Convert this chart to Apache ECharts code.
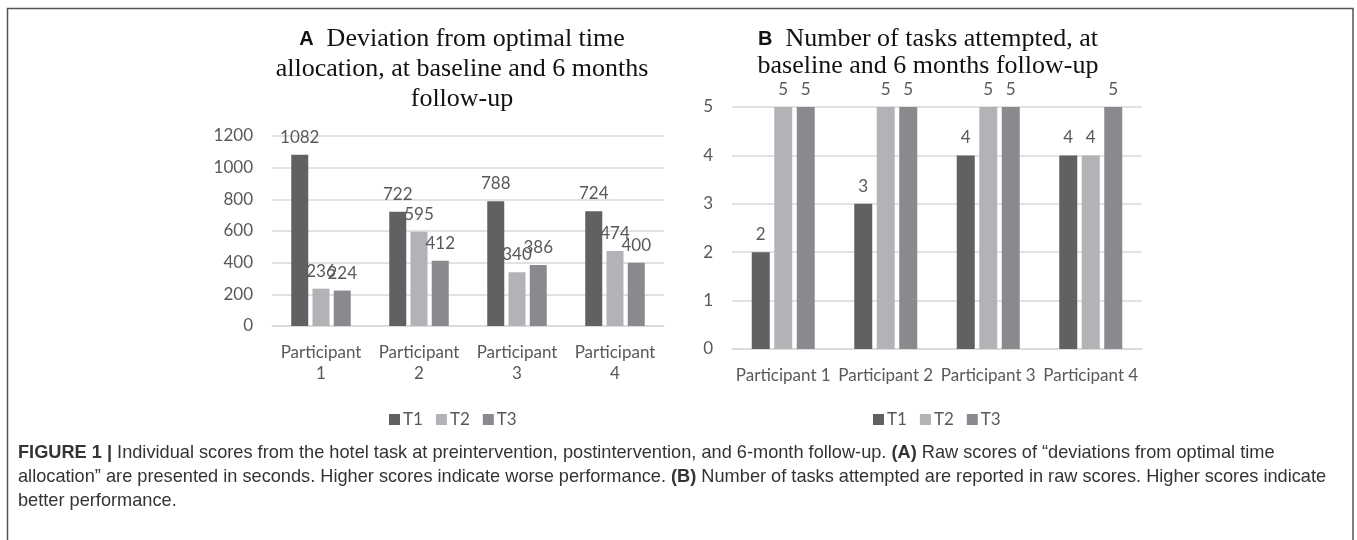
<!DOCTYPE html>
<html>
<head>
<meta charset="utf-8">
<script src="https://cdn.jsdelivr.net/npm/echarts@6/dist/echarts.min.js"></script>
<style>
  html, body { margin: 0; padding: 0; background: #fff; }
  #chart { width: 1357px; height: 540px; }
</style>
</head>
<body>
<div id="chart"></div>
<script>
  // 数据
  const participants = ["Participant 1", "Participant 2", "Participant 3", "Participant 4"];
  const seriesNames = ["T1", "T2", "T3"];
  // A: deviation from optimal time allocation (seconds)
  const devT1 = [1082, 722, 788, 724];
  const devT2 = [236, 595, 340, 474];
  const devT3 = [224, 412, 386, 400];
  // B: number of tasks attempted
  const tasksT1 = [2, 3, 4, 4];
  const tasksT2 = [5, 5, 5, 4];
  const tasksT3 = [5, 5, 5, 5];

  const COLORS = ["#606163", "#b2b3b6", "#898a8d"];
  const AX_TXT = "#595959";
  const GRID_LN = "#d9d9d9";
  const SANS = "Lato, 'Open Sans', sans-serif";
  const SERIF = "'Liberation Serif', 'DejaVu Serif', serif";
  const CAP = "'Liberation Sans', Arial, sans-serif";

  function bars(data, idx, grid, width) {
    return {
      name: seriesNames[idx],
      type: "bar",
      xAxisIndex: grid,
      yAxisIndex: grid,
      data: data,
      barWidth: width,
      barGap: "25%",
      itemStyle: { color: COLORS[idx] },
      label: {
        show: true,
        position: "top",
        distance: 9,
        color: AX_TXT,
        fontFamily: SANS,
        fontSize: 17,
      },
    };
  }

  function catAxis(grid, wrap) {
    return {
      type: "category",
      gridIndex: grid,
      data: participants,
      axisLine: { lineStyle: { color: GRID_LN, width: 1.5 } },
      axisTick: { show: false },
      axisLabel: {
        color: AX_TXT,
        fontFamily: SANS,
        fontSize: 17,
        margin: 16,
        lineHeight: 21,
        interval: 0,
        formatter: wrap ? (v) => v.replace(" ", "\n") : (v) => v,
      },
    };
  }

  function valAxis(grid, max, step) {
    return {
      type: "value",
      gridIndex: grid,
      min: 0,
      max: max,
      interval: step,
      axisLine: { show: false },
      axisTick: { show: false },
      splitLine: { lineStyle: { color: GRID_LN, width: 1.5 } },
      axisLabel: {
        color: AX_TXT,
        fontFamily: SANS,
        fontSize: 17,
        margin: 19,
        formatter: (v) => String(v),
      },
    };
  }

  function legendAt(x) {
    return {
      data: seriesNames,
      left: x,
      top: 406,
      icon: "rect",
      itemWidth: 11,
      itemHeight: 11,
      itemGap: 13,
      textStyle: { color: AX_TXT, fontFamily: SANS, fontSize: 17, padding: [0, 0, 0, -2] },
      selectedMode: false,
    };
  }

  function titleStyle(lh) {
    return {
      fontFamily: SERIF,
      fontWeight: "normal",
      fontSize: 26,
      lineHeight: lh,
      color: "#111",
      rich: {
        p: { fontFamily: CAP, fontWeight: "bold", fontSize: 20, lineHeight: lh, color: "#111" },
      },
    };
  }

  const chart = echarts.init(document.getElementById("chart"), null, { renderer: "canvas" });
  chart.setOption({
    animation: false,
    backgroundColor: "#fff",
    title: [
      {
        text: "{p|A}  Deviation from optimal time\nallocation, at baseline and 6 months\nfollow-up",
        left: 457,
        top: 19,
        textAlign: "center",
        textStyle: titleStyle(30),
      },
      {
        text: "{p|B}  Number of tasks attempted, at\nbaseline and 6 months follow-up",
        left: 923,
        top: 21,
        textAlign: "center",
        textStyle: titleStyle(27),
      },
      {
        text:
          "{b|FIGURE 1 |} Individual scores from the hotel task at preintervention, postintervention, and 6-month follow-up. {b|(A)} Raw scores of \u201cdeviations from optimal time\n" +
          "allocation\u201d are presented in seconds. Higher scores indicate worse performance. {b|(B)} Number of tasks attempted are reported in raw scores. Higher scores indicate\n" +
          "better performance.",
        left: 13,
        top: 436,
        textStyle: {
          fontFamily: CAP,
          fontWeight: "normal",
          fontSize: 18.2,
          lineHeight: 24,
          color: "#333",
          rich: {
            b: { fontFamily: CAP, fontWeight: "bold", fontSize: 18.2, lineHeight: 24, color: "#333" },
          },
        },
      },
    ],
    legend: [legendAt(384), legendAt(868)],
    grid: [
      { left: 272, top: 136, width: 392, height: 190 },
      { left: 732, top: 107, width: 410, height: 242 },
    ],
    xAxis: [catAxis(0, true), catAxis(1, false)],
    yAxis: [valAxis(0, 1200, 200), valAxis(1, 5, 1)],
    series: [
      bars(devT1, 0, 0, 17),
      bars(devT2, 1, 0, 17),
      bars(devT3, 2, 0, 17),
      bars(tasksT1, 0, 1, 18),
      bars(tasksT2, 1, 1, 18),
      bars(tasksT3, 2, 1, 18),
    ],
    graphic: [
      {
        type: "rect",
        shape: { x: 7.5, y: 8.5, width: 1345.5, height: 545 },
        style: { fill: "none", stroke: "#555", lineWidth: 1.5 },
        silent: true,
      },
    ],
  });
</script>
</body>
</html>
